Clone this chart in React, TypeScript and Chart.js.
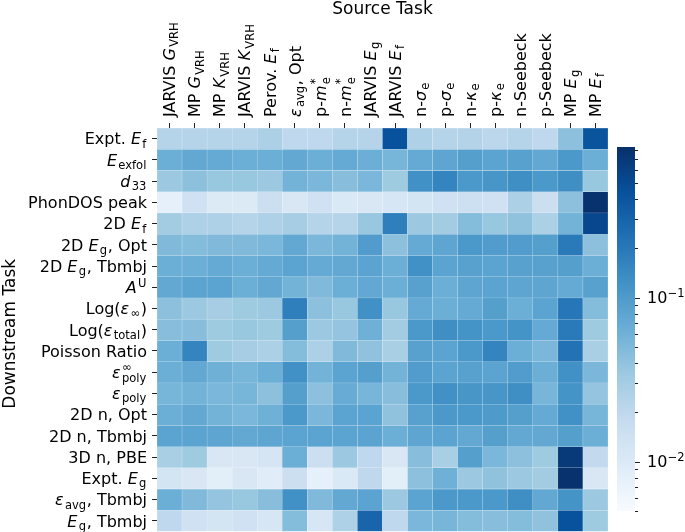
import React, { useEffect, useRef } from "react";
import { Chart, registerables } from "chart.js";

Chart.register(...registerables);

// ---------- data ----------
const sourceTasks = [
  "JARVIS *G*_{VRH}", "MP *G*_{VRH}", "MP *K*_{VRH}", "JARVIS *K*_{VRH}", "Perov. *E*_{f}",
  "*ε*_{avg}, Opt", "p-*m*^{*}_{e}", "n-*m*^{*}_{e}", "JARVIS *E*_{g}", "JARVIS *E*_{f}",
  "n-*σ*_{e}", "p-*σ*_{e}", "n-*κ*_{e}", "p-*κ*_{e}", "n-Seebeck", "p-Seebeck",
  "MP *E*_{g}", "MP *E*_{f}",
];

const downstreamTasks = [
  "Expt. *E*_{f}", "*E*_{exfol}", "*d*_{33}", "PhonDOS peak", "2D *E*_{f}",
  "2D *E*_{g}, Opt", "2D *E*_{g}, Tbmbj", "*A*^{U}", "Log(*ε*_{∞})", "Log(*ε*_{total})",
  "Poisson Ratio", "*ε*^{∞}_{poly}", "*ε*_{poly}", "2D n, Opt", "2D n, Tbmbj",
  "3D n, PBE", "Expt. *E*_{g}", "*ε*_{avg}, Tbmbj", "*E*_{g}, Tbmbj",
];

// rows = downstream tasks, columns = source tasks
const transferValues: number[][] = [
  [0.0233, 0.0233, 0.0233, 0.0233, 0.0272, 0.0201, 0.0201, 0.0233, 0.0233, 0.437, 0.0258, 0.0233, 0.024, 0.021, 0.0233, 0.0201, 0.0428, 0.416],
  [0.0641, 0.0746, 0.071, 0.0641, 0.0641, 0.0746, 0.0641, 0.071, 0.0641, 0.0551, 0.071, 0.0785, 0.0914, 0.0826, 0.0869, 0.0746, 0.106, 0.0641],
  [0.035, 0.0428, 0.0368, 0.0368, 0.035, 0.058, 0.0524, 0.045, 0.0524, 0.0333, 0.124, 0.159, 0.106, 0.112, 0.13, 0.106, 0.13, 0.0368],
  [0.0077, 0.0141, 0.0099, 0.0099, 0.0156, 0.0109, 0.0141, 0.0104, 0.0109, 0.0115, 0.0127, 0.0141, 0.0148, 0.0141, 0.0272, 0.0156, 0.0428, 0.8],
  [0.0316, 0.0258, 0.0258, 0.0233, 0.0258, 0.0301, 0.0233, 0.0233, 0.0368, 0.176, 0.035, 0.0316, 0.0473, 0.0368, 0.0407, 0.0272, 0.058, 0.535],
  [0.0498, 0.0473, 0.0498, 0.0498, 0.0524, 0.0746, 0.0524, 0.058, 0.0961, 0.0428, 0.071, 0.0785, 0.106, 0.0961, 0.0961, 0.0914, 0.195, 0.0428],
  [0.0641, 0.0641, 0.071, 0.0641, 0.071, 0.0826, 0.071, 0.0746, 0.0826, 0.0641, 0.124, 0.0826, 0.0869, 0.0826, 0.0869, 0.0869, 0.0914, 0.0641],
  [0.0746, 0.0826, 0.0826, 0.0641, 0.0746, 0.058, 0.0498, 0.0641, 0.0746, 0.0641, 0.0869, 0.0641, 0.0785, 0.0826, 0.0785, 0.0785, 0.071, 0.0869],
  [0.0428, 0.035, 0.0301, 0.0333, 0.035, 0.176, 0.0428, 0.0368, 0.124, 0.0368, 0.071, 0.0641, 0.071, 0.0914, 0.0641, 0.0826, 0.205, 0.0473],
  [0.045, 0.045, 0.0333, 0.0368, 0.0333, 0.0914, 0.035, 0.0387, 0.061, 0.0316, 0.106, 0.13, 0.117, 0.106, 0.117, 0.071, 0.195, 0.0333],
  [0.0641, 0.159, 0.0333, 0.0301, 0.0272, 0.0473, 0.0272, 0.0498, 0.0407, 0.0286, 0.0869, 0.0826, 0.106, 0.159, 0.0641, 0.0524, 0.227, 0.0286],
  [0.0641, 0.0746, 0.061, 0.0551, 0.0641, 0.124, 0.058, 0.0826, 0.0914, 0.058, 0.0961, 0.0826, 0.0869, 0.0826, 0.0961, 0.0641, 0.124, 0.0524],
  [0.0551, 0.058, 0.0524, 0.0551, 0.0428, 0.0914, 0.0428, 0.0674, 0.0551, 0.045, 0.106, 0.124, 0.112, 0.112, 0.13, 0.0551, 0.117, 0.0387],
  [0.0641, 0.0746, 0.058, 0.0524, 0.061, 0.106, 0.0524, 0.0826, 0.0826, 0.0407, 0.0869, 0.106, 0.106, 0.101, 0.0914, 0.071, 0.124, 0.0551],
  [0.0826, 0.0826, 0.0785, 0.0746, 0.0785, 0.0826, 0.0826, 0.0826, 0.0826, 0.0641, 0.0785, 0.0826, 0.0746, 0.0914, 0.0746, 0.0746, 0.0914, 0.0641],
  [0.0286, 0.0333, 0.0109, 0.0109, 0.0121, 0.0641, 0.0156, 0.035, 0.0201, 0.0109, 0.045, 0.0286, 0.0914, 0.0524, 0.0428, 0.0333, 0.689, 0.0191],
  [0.0127, 0.0109, 0.0085, 0.0109, 0.0089, 0.0156, 0.0077, 0.0104, 0.0201, 0.0085, 0.0428, 0.061, 0.035, 0.0407, 0.035, 0.0316, 0.8, 0.0109],
  [0.0641, 0.0498, 0.0387, 0.0368, 0.045, 0.124, 0.0498, 0.0746, 0.0826, 0.035, 0.0826, 0.106, 0.106, 0.106, 0.13, 0.0746, 0.117, 0.035],
  [0.0201, 0.0141, 0.0127, 0.0141, 0.0115, 0.0473, 0.0115, 0.0258, 0.292, 0.0201, 0.0524, 0.0551, 0.0473, 0.045, 0.0473, 0.0407, 0.437, 0.0333],
];

const colorMin = 0.005;
const colorMax = 0.83;
const colorbarTicks = [
  0.005, 0.006, 0.007, 0.008, 0.009, 0.01, 0.02, 0.03, 0.04, 0.05, 0.06, 0.07, 0.08, 0.09,
  0.1, 0.2, 0.3, 0.4, 0.5, 0.6, 0.7, 0.8,
];
const colorbarMajorTicks = [0.01, 0.1];
const colorbarMajorLabels = ["10^{−2}", "10^{−1}"];

const xTitle = "Source Task";
const yTitle = "Downstream Task";

// ---------- helpers ----------
const BLUES = [
  [247, 251, 255], [222, 235, 247], [198, 219, 239], [158, 202, 225], [107, 174, 214],
  [66, 146, 198], [33, 113, 181], [8, 81, 156], [8, 48, 107],
];

function bluesRGB(t: number): number[] {
  const tt = Math.max(0, Math.min(1, t));
  const x = tt * 8;
  const i = Math.min(7, Math.floor(x));
  const f = x - i;
  return BLUES[i].map((c, k) => c + (BLUES[i + 1][k] - c) * f);
}
function rgbStr(c: number[]) {
  return `rgb(${Math.round(c[0])},${Math.round(c[1])},${Math.round(c[2])})`;
}
function normT(v: number) {
  return (Math.log10(v) - Math.log10(colorMin)) / (Math.log10(colorMax) - Math.log10(colorMin));
}
function colorFor(v: number) {
  return rgbStr(bluesRGB(normT(v)));
}
function edgeFor(v: number) {
  const c = bluesRGB(normT(v));
  return rgbStr(c.map((x) => x + (255 - x) * 0.55));
}

type Seg = { text: string; italic: boolean; kind: "n" | "sub" | "sup" };
function parseRich(s: string): Seg[] {
  const out: Seg[] = [];
  let italic = false;
  let buf = "";
  const flush = () => {
    if (buf) {
      out.push({ text: buf, italic, kind: "n" });
      buf = "";
    }
  };
  for (let i = 0; i < s.length; i++) {
    const c = s[i];
    if ((c === "_" || c === "^") && s[i + 1] === "{") {
      flush();
      const end = s.indexOf("}", i + 2);
      out.push({ text: s.slice(i + 2, end), italic: false, kind: c === "_" ? "sub" : "sup" });
      i = end;
    } else if (c === "*") {
      flush();
      italic = !italic;
    } else buf += c;
  }
  flush();
  return out;
}

const FAMILY = '"DejaVu Sans", sans-serif';
function fontStr(size: number, italic: boolean) {
  return `${italic ? "italic " : ""}${size}px ${FAMILY}`;
}

function drawRich(
  ctx: CanvasRenderingContext2D,
  str: string,
  x: number,
  y: number,
  size: number,
  align: "left" | "right" | "center"
) {
  const segs = parseRich(str);
  const items: { s: Seg; x: number; dy: number; size: number }[] = [];
  let cx = 0;
  let i = 0;
  while (i < segs.length) {
    const s = segs[i];
    if (s.kind === "n") {
      ctx.font = fontStr(size, s.italic);
      items.push({ s, x: cx, dy: 0, size });
      cx += ctx.measureText(s.text).width + (s.italic ? size * 0.06 : 0);
      i++;
    } else {
      const group = [s];
      if (i + 1 < segs.length && segs[i + 1].kind !== "n" && segs[i + 1].kind !== s.kind) group.push(segs[i + 1]);
      const stacked = group.length > 1;
      let maxW = 0;
      const sz = size * 0.72;
      for (const g of group) {
        ctx.font = fontStr(sz, false);
        const w = ctx.measureText(g.text).width;
        maxW = Math.max(maxW, w);
        const dy = g.kind === "sub" ? size * (stacked ? 0.27 : 0.2) : -size * (stacked ? 0.42 : 0.38);
        items.push({ s: g, x: cx + size * 0.02, dy, size: sz });
      }
      cx += maxW + size * 0.06;
      i += group.length;
    }
  }
  const width = cx;
  const start = align === "left" ? x : align === "right" ? x - width : x - width / 2;
  ctx.textAlign = "left";
  ctx.textBaseline = "alphabetic";
  for (const it of items) {
    ctx.font = fontStr(it.size, it.s.kind === "n" ? it.s.italic : false);
    ctx.fillText(it.s.text, start + it.x, y + it.dy);
  }
}

const XLABEL_SIZE = 16;
const YLABEL_SIZE = 16;
const CB_LABEL_SIZE = 16;
const TITLE_SIZE = 17;

// ---------- component ----------
export default function App() {
  const mainRef = useRef<HTMLCanvasElement | null>(null);
  const cbRef = useRef<HTMLCanvasElement | null>(null);

  useEffect(() => {
    document.body.style.margin = "0";
    if (!mainRef.current || !cbRef.current) return;

    const labelPlugin = {
      id: "richLabels",
      afterDraw(chart: any) {
        const ctx: CanvasRenderingContext2D = chart.ctx;
        const xs = chart.scales.x;
        const ys = chart.scales.y;
        const area = chart.chartArea;
        ctx.save();
        ctx.fillStyle = "#000";
        // x tick labels (rotated)
        sourceTasks.forEach((lab, i) => {
          const px = xs.getPixelForTick(i);
          ctx.save();
          ctx.translate(px, 117);
          ctx.rotate(-Math.PI / 2);
          drawRich(ctx, lab, 0, XLABEL_SIZE * 0.36, XLABEL_SIZE, "left");
          ctx.restore();
        });
        // y tick labels
        downstreamTasks.forEach((lab, i) => {
          const py = ys.getPixelForValue(i + 0.5);
          drawRich(ctx, lab, 147, py + YLABEL_SIZE * 0.36, YLABEL_SIZE, "right");
        });
        // titles
        ctx.font = fontStr(TITLE_SIZE, false);
        ctx.textAlign = "center";
        ctx.textBaseline = "alphabetic";
        ctx.fillText(xTitle, (area.left + area.right) / 2, 14);
        ctx.save();
        ctx.translate(15, (area.top + area.bottom) / 2 + 4);
        ctx.rotate(-Math.PI / 2);
        ctx.fillText(yTitle, 0, 0);
        ctx.restore();
        ctx.restore();
      },
    };

    const main = new Chart(mainRef.current, {
      type: "bar",
      data: {
        labels: sourceTasks,
        datasets: downstreamTasks.map((name, r) => ({
          label: name,
          data: sourceTasks.map(() => [r, r + 1]),
          backgroundColor: transferValues[r].map(colorFor),
          borderColor: transferValues[r].map(edgeFor),
          borderWidth: 0.5,
          borderSkipped: false,
          grouped: false,
          categoryPercentage: 1,
          barPercentage: 1,
        })),
      } as any,
      options: {
        animation: false,
        responsive: false,
        maintainAspectRatio: false,
        layout: { padding: { left: 0, right: 77, top: 0, bottom: 0.5 } },
        plugins: { legend: { display: false }, tooltip: { enabled: false } },
        events: [],
        scales: {
          x: {
            type: "category",
            position: "top",
            offset: true,
            border: { display: false },
            grid: {
              display: true,
              drawOnChartArea: false,
              drawTicks: true,
              tickLength: 5,
              offset: false,
              tickColor: "#222",
              tickWidth: 1,
            },
            ticks: { display: false },
            afterFit: (s: any) => {
              s.height = 128;
            },
          },
          y: {
            type: "linear",
            min: 0,
            max: downstreamTasks.length,
            reverse: true,
            border: { display: false },
            grid: {
              display: true,
              drawOnChartArea: false,
              drawTicks: true,
              tickLength: 5,
              tickColor: "#222",
              tickWidth: 1,
            },
            ticks: { display: false },
            afterBuildTicks: (s: any) => {
              s.ticks = downstreamTasks.map((_, i) => ({ value: i + 0.5 }));
            },
            afterFit: (s: any) => {
              s.width = 157;
            },
          },
        },
      } as any,
      plugins: [labelPlugin],
    });

    const cbPlugin = {
      id: "cbTicks",
      afterDraw(chart: any) {
        const ctx: CanvasRenderingContext2D = chart.ctx;
        const ys = chart.scales.y;
        const area = chart.chartArea;
        ctx.save();
        ctx.strokeStyle = "#222";
        ctx.lineWidth = 1;
        colorbarTicks.forEach((v) => {
          const major = colorbarMajorTicks.includes(v);
          const py = Math.round(ys.getPixelForValue(v)) + 0.5;
          ctx.beginPath();
          ctx.moveTo(area.right, py);
          ctx.lineTo(area.right + (major ? 5 : 3), py);
          ctx.stroke();
        });
        ctx.fillStyle = "#000";
        colorbarMajorTicks.forEach((v, i) => {
          const py = ys.getPixelForValue(v);
          drawRich(ctx, colorbarMajorLabels[i], area.right + 12, py + CB_LABEL_SIZE * 0.36, CB_LABEL_SIZE, "left");
        });
        ctx.restore();
      },
    };

    const cb = new Chart(cbRef.current, {
      type: "bar",
      data: {
        labels: ["scale"],
        datasets: [
          {
            data: [[colorMin, colorMax]],
            backgroundColor: (c: any) => {
              const area = c.chart.chartArea;
              if (!area) return "#6baed6";
              const g = c.chart.ctx.createLinearGradient(0, area.bottom, 0, area.top);
              BLUES.forEach((col, i) => g.addColorStop(i / 8, rgbStr(col)));
              return g;
            },
            borderWidth: 0,
            categoryPercentage: 1,
            barPercentage: 1,
          },
        ],
      } as any,
      options: {
        animation: false,
        responsive: false,
        maintainAspectRatio: false,
        events: [],
        layout: { padding: { left: 0, right: 0, top: 10, bottom: 10 } },
        plugins: { legend: { display: false }, tooltip: { enabled: false } },
        scales: {
          x: { display: false },
          y: {
            type: "logarithmic",
            position: "right",
            min: colorMin,
            max: colorMax,
            grid: { display: false },
            border: { display: false },
            ticks: { display: false },
            afterBuildTicks: (s: any) => {
              s.ticks = colorbarTicks.map((v) => ({ value: v }));
            },
            afterFit: (s: any) => {
              s.width = 50;
            },
          },
        },
      } as any,
      plugins: [cbPlugin],
    });

    return () => {
      main.destroy();
      cb.destroy();
    };
  }, []);

  return (
    <div style={{ position: "relative", width: 685, height: 532, background: "#fff" }}>
      <canvas ref={mainRef} width={685} height={532} style={{ position: "absolute", left: 0, top: 0 }} />
      <canvas ref={cbRef} width={68} height={384} style={{ position: "absolute", left: 617, top: 137 }} />
    </div>
  );
}
